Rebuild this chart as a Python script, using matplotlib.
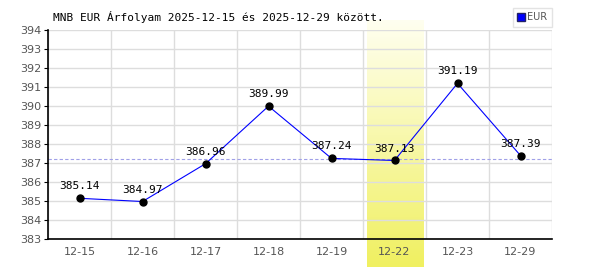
import matplotlib
matplotlib.use("Agg")
import matplotlib.pyplot as plt
from matplotlib.lines import Line2D
import numpy as np

dates = ["12-15", "12-16", "12-17", "12-18", "12-19", "12-22", "12-23", "12-29"]
rates = [385.14, 384.97, 386.96, 389.99, 387.24, 387.13, 391.19, 387.39]
ref_level = 387.2
highlight = "12-22"
title = "MNB EUR Árfolyam 2025-12-15 és 2025-12-29 között."

fig = plt.figure(figsize=(6, 2.7), dpi=100)
ax = fig.add_axes([0.08, 0.115, 0.84, 0.774])

x = np.arange(len(dates)) + 0.5

# vertical gradient band behind highlighted day
hi = dates.index(highlight)
grad = np.linspace(0, 1, 256).reshape(-1, 1)
top = np.array([255, 255, 240]) / 255
bot = np.array([240, 240, 96]) / 255
img = top + (bot - top) * grad[:, :, None]
ax.imshow(img, extent=[hi + 0.06, hi + 0.96, 381.5, 394.45], aspect="auto",
          origin="upper", zorder=0, clip_on=False)
ax.set_xlim(0, len(dates))
ax.set_ylim(383, 394)

ax.set_yticks(np.arange(383, 395))
ax.set_xticks(np.arange(len(dates) + 1))
ax.set_xticklabels([])
ax.set_xticks(x, minor=True)
ax.set_xticklabels(dates, minor=True)
ax.tick_params(axis="x", which="both", length=0, pad=6)
ax.tick_params(axis="y", length=3, pad=2)
ax.tick_params(which="both", labelsize=8, labelcolor="#555555")
ax.grid(True, which="major", color="#dddddd", linewidth=1, zorder=1)
ax.set_axisbelow(True)
for s in ["top", "right"]:
    ax.spines[s].set_visible(False)
for s in ["left", "bottom"]:
    ax.spines[s].set_linewidth(1.2)

ax.axhline(ref_level, color="#a0a0e8", linestyle=(0, (3, 2)), linewidth=0.8, zorder=2)

ax.plot(x, rates, color="blue", linewidth=0.8, zorder=3)
ax.plot(x, rates, "o", color="black", markersize=5, zorder=4)
for xi, v in zip(x, rates):
    ax.annotate(f"{v:.2f}", (xi, v), xytext=(0, 5), textcoords="offset points",
                ha="center", va="bottom", fontsize=8, family="DejaVu Sans Mono",
                zorder=5)

fig.text(53 / 600, 1 - 17 / 270, title, fontsize=8, family="DejaVu Sans Mono",
         ha="left", va="center")

h = Line2D([], [], marker="s", color="blue", linestyle="none", markersize=5.5,
           markeredgecolor="#222266")
leg = ax.legend([h], ["EUR"], loc="upper right", bbox_to_anchor=(1.0, 1.105),
                fontsize=7, frameon=True, fancybox=False, handlelength=0.7,
                handletextpad=0.3, borderpad=0.45, borderaxespad=0)
leg.get_frame().set_edgecolor("#dddddd")
leg.get_frame().set_linewidth(1)
for t in leg.get_texts():
    t.set_color("#555555")

fig.savefig("out.png")
